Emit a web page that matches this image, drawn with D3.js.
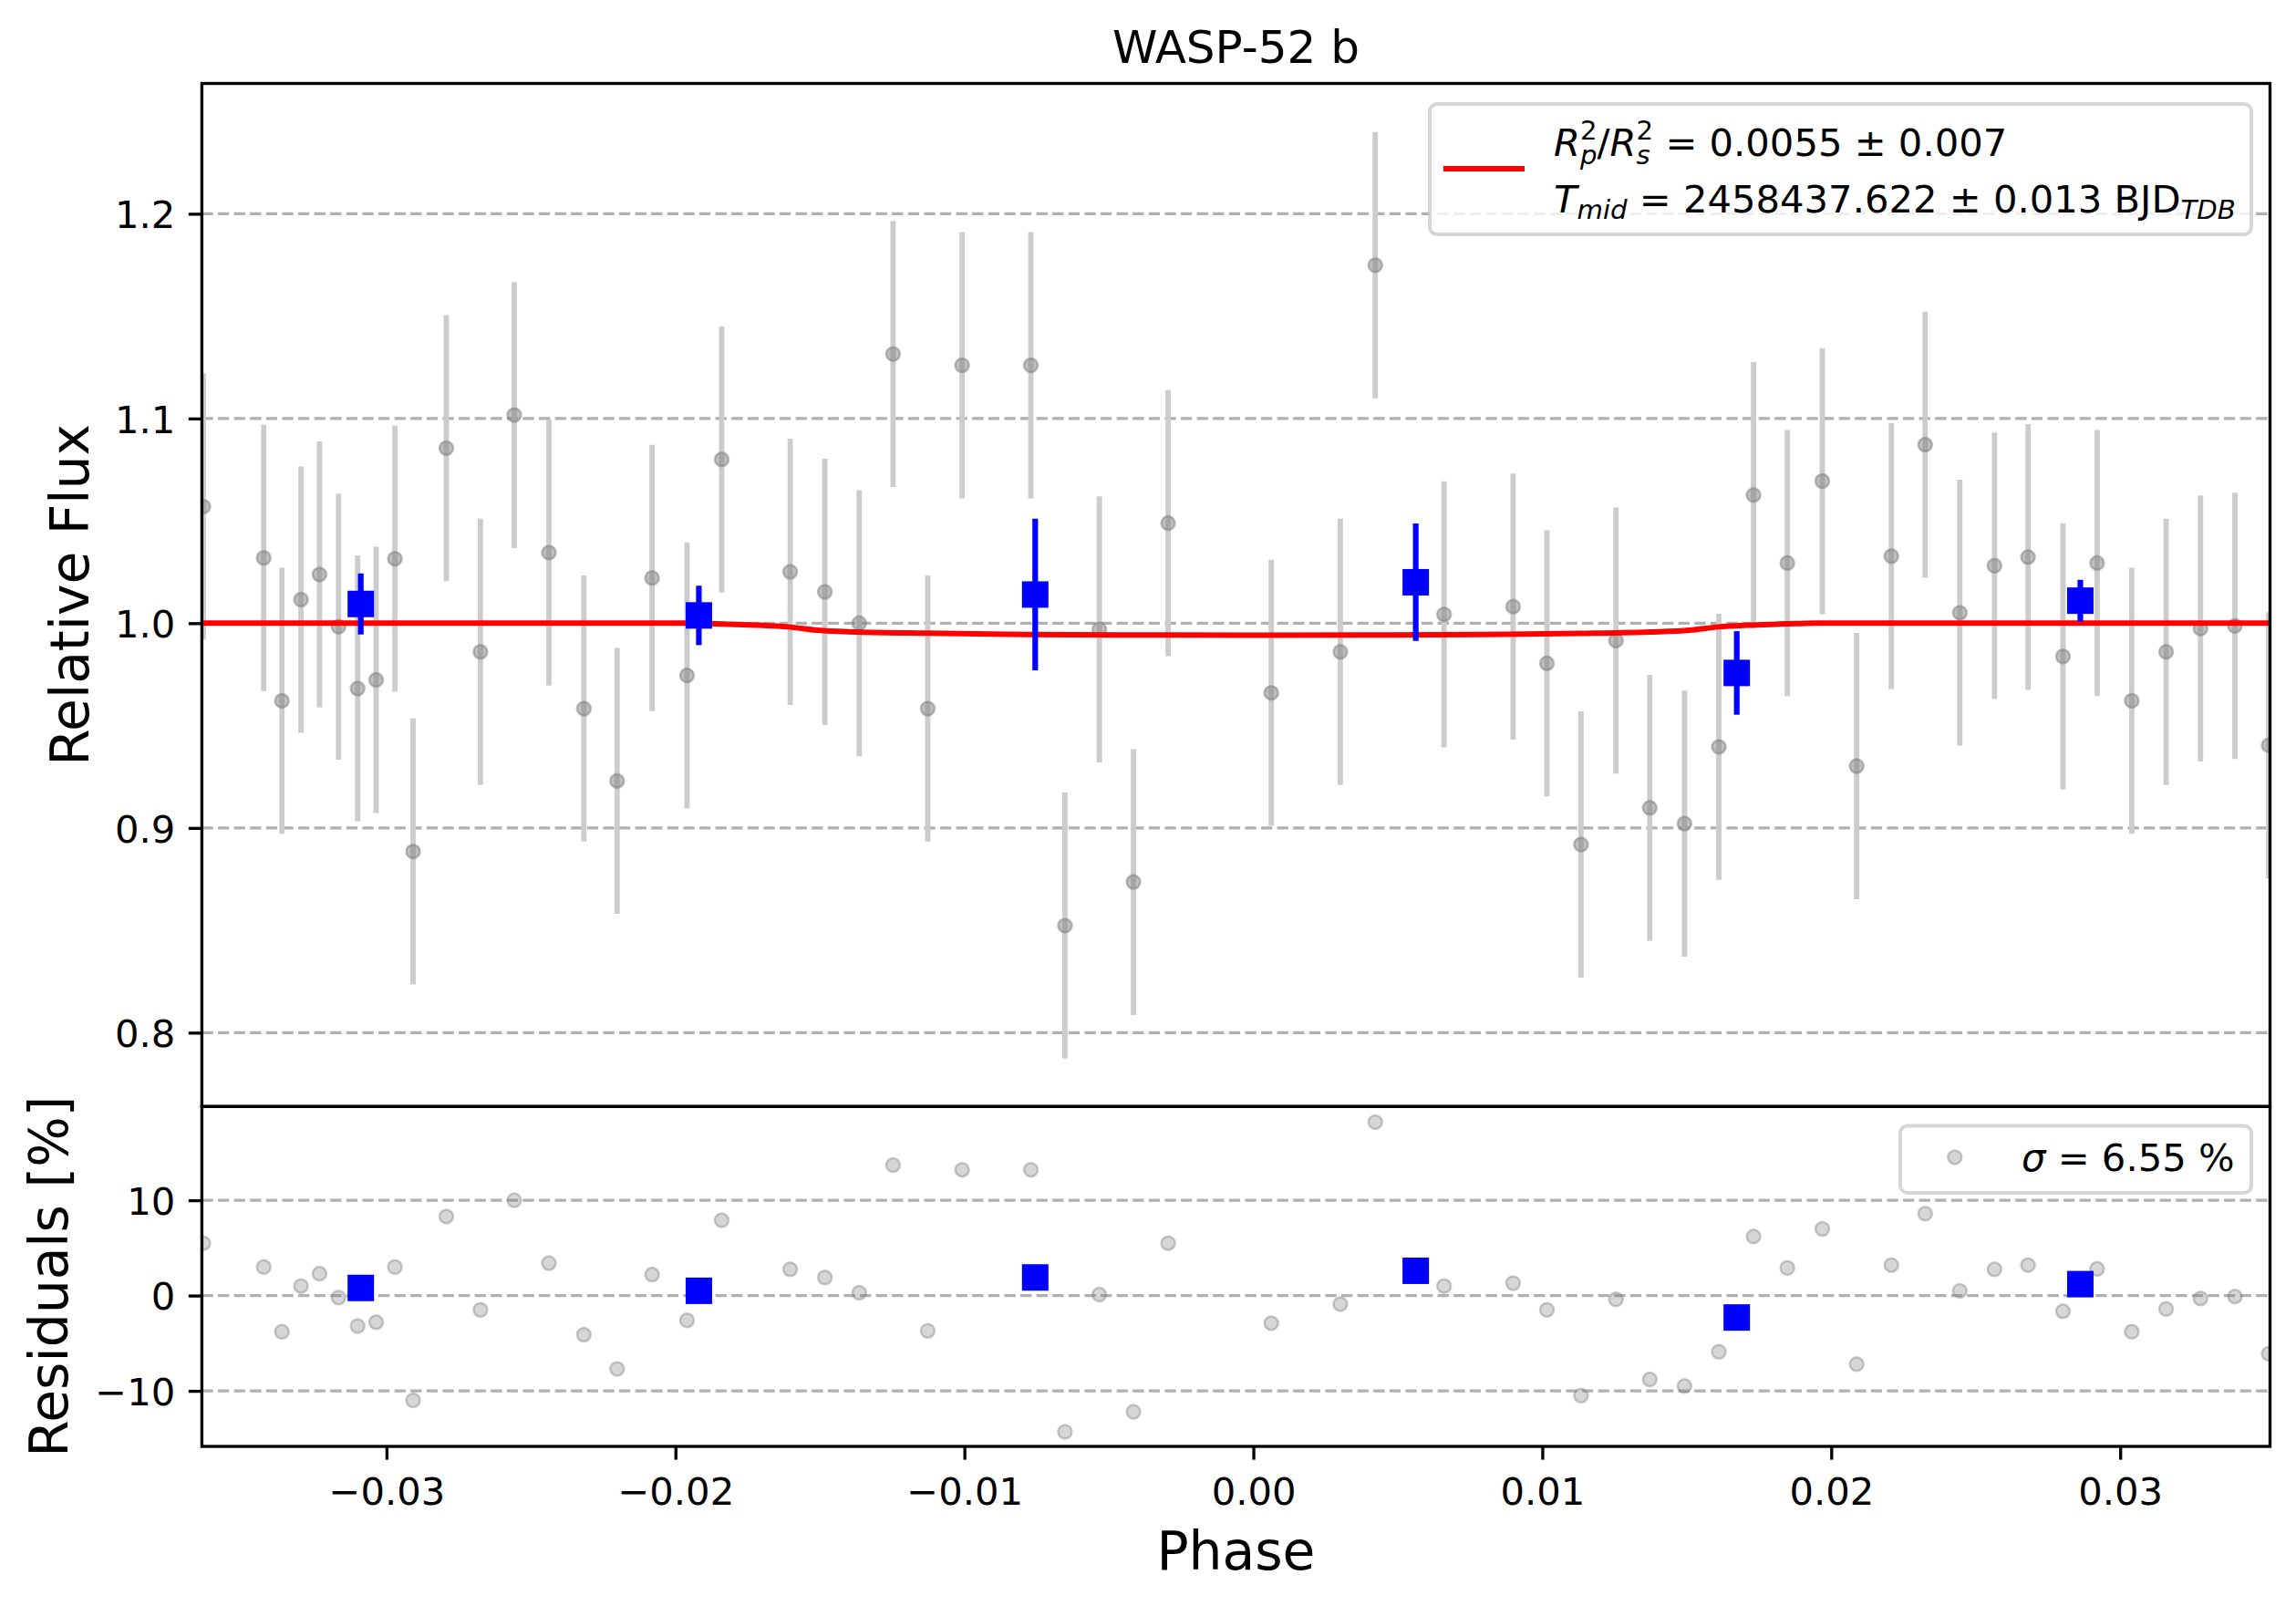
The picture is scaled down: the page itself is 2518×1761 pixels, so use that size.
<!DOCTYPE html>
<meta charset="utf-8">
<script src="https://d3js.org/d3.v7.min.js"></script>
<style>
  body { margin: 0; background: #fff; }
  text { font-family: "DejaVu Sans", sans-serif; fill: #000; }
</style>
<div id="chart"></div>
<script>
// ---- data ----
// unbinned exposures
var phase = [-0.03634, -0.03425, -0.03362, -0.03296, -0.03232, -0.03166, -0.03100, -0.03036, -0.02971, -0.02908,
             -0.02793, -0.02675, -0.02558, -0.02438, -0.02317, -0.02202, -0.02081, -0.01960, -0.01840, -0.01603,
             -0.01483, -0.01364, -0.01247, -0.01127, -0.01008, -0.00770, -0.00652, -0.00533, -0.00415, -0.00295,
              0.00062,  0.00301,  0.00422,  0.00660,  0.00899,  0.01016,  0.01134,  0.01255,  0.01372,  0.01492,
              0.01611,  0.01731,  0.01848,  0.01969,  0.02088,  0.02208,  0.02325,  0.02445,  0.02565,  0.02681,
              0.02802,  0.02920,  0.03040,  0.03159,  0.03278,  0.03397,  0.03514];
var flux = [1.0570, 1.0319, 0.9621, 1.0115, 1.0238, 0.9983, 0.9681, 0.9723, 1.0315, 0.8885,
            1.0855, 0.9860, 1.1017, 1.0345, 0.9583, 0.9230, 1.0221, 0.9745, 1.0800, 1.0251,
            1.0153, 1.0000, 1.1315, 0.9583, 1.1260, 1.1260, 0.8523, 0.9970, 0.8736, 1.0489,
            0.9660, 0.9860, 1.1749, 1.0043, 1.0081, 0.9804, 0.8919, 0.9915, 0.9098, 0.9021,
            0.9396, 1.0626, 1.0294, 1.0694, 0.9302, 1.0328, 1.0872, 1.0051, 1.0281, 1.0323,
            0.9838, 1.0294, 0.9621, 0.9860, 0.9974, 0.9987, 0.9404];
var fluxErr = [0.065, 0.065, 0.065, 0.065, 0.065, 0.065, 0.065, 0.065, 0.065, 0.065,
               0.065, 0.065, 0.065, 0.065, 0.065, 0.065, 0.065, 0.065, 0.065, 0.065,
               0.065, 0.065, 0.065, 0.065, 0.065, 0.065, 0.065, 0.065, 0.065, 0.065,
               0.065, 0.065, 0.065, 0.065, 0.065, 0.065, 0.065, 0.065, 0.065, 0.065,
               0.065, 0.065, 0.065, 0.065, 0.065, 0.065, 0.065, 0.065, 0.065, 0.065,
               0.065, 0.065, 0.065, 0.065, 0.065, 0.065, 0.065];
var resid = [5.5, 3.0, -3.8, 1.0, 2.3, -0.2, -3.2, -2.8, 3.0, -11.0,
             8.3, -1.5, 10.0, 3.4, -4.1, -7.7, 2.2, -2.6, 7.9, 2.75,
             1.9, 0.3, 13.7, -3.7, 13.2, 13.2, -14.3, 0.1, -12.2, 5.5,
             -2.9, -0.9, 18.2, 1.0, 1.3, -1.5, -10.5, -0.4, -8.8, -9.5,
             -5.9, 6.2, 2.9, 7.0, -7.2, 3.2, 8.6, 0.5, 2.75, 3.2,
             -1.65, 2.8, -3.8, -1.4, -0.3, -0.1, -6.1];

// binned points
var binPhase = [-0.03089, -0.01919, -0.00755, 0.00562, 0.01673, 0.02862];
var binFlux  = [1.0094, 1.0038, 1.0140, 1.0200, 0.9757, 1.0110];
var binErr   = [0.0149, 0.0145, 0.0370, 0.0287, 0.0204, 0.0102];
var binResid = [0.8, 0.5, 1.9, 2.6, -2.3, 1.2];

// transit model
var modelPhase = [-0.0364, -0.0195, -0.0188, -0.0181, -0.0171, -0.0161, -0.0151, -0.0137, -0.0113, -0.0079,
                  -0.0039, 0.0000, 0.0040, 0.0079, 0.0113, 0.0137, 0.0151, 0.0161, 0.0171, 0.0181,
                   0.0188, 0.0195, 0.0352];
var modelFlux  = [1.0000, 1.0000, 0.9998, 0.9995, 0.9990, 0.9982, 0.9966, 0.9957, 0.9951, 0.9945,
                  0.99425, 0.9941, 0.99425, 0.9945, 0.9950, 0.9957, 0.9966, 0.9982, 0.9990, 0.9995,
                  0.9998, 1.0000, 1.0000];

var phaseTicks = [-0.03, -0.02, -0.01, 0.00, 0.01, 0.02, 0.03];
var fluxTicks  = [0.8, 0.9, 1.0, 1.1, 1.2];
var residTicks = [-10, 0, 10];

// ---- layout (pixels) ----
var W = 2518, H = 1761;
var axLeft = 221.4, axRight = 2489.5, axTop = 91.5, axMid = 1213.3, axBottom = 1586;
var tickFont = 41.7, labelFont = 58.3, lw = 3.33;

var svg = d3.select("#chart").append("svg")
    .attr("width", W)
    .attr("height", H);

var x = d3.scaleLinear().domain([-0.03639, 0.035185]).range([axLeft, axRight]);
var y = d3.scaleLinear().domain([0.76392, 1.26365]).range([axMid, axTop]);
var yr = d3.scaleLinear().domain([-15.83, 19.84]).range([axBottom, axMid]);

var defs = svg.append("defs");
defs.append("clipPath").attr("id", "clipTop")
  .append("rect").attr("x", axLeft).attr("y", axTop).attr("width", axRight - axLeft).attr("height", axMid - axTop);
defs.append("clipPath").attr("id", "clipBot")
  .append("rect").attr("x", axLeft).attr("y", axMid).attr("width", axRight - axLeft).attr("height", axBottom - axMid);

// grids
function grid(ticks, scale) {
  svg.append("g").selectAll("line")
    .data(ticks).enter().append("line")
      .attr("x1", axLeft).attr("x2", axRight)
      .attr("y1", d => scale(d)).attr("y2", d => scale(d))
      .attr("stroke", "#b0b0b0")
      .attr("stroke-width", lw)
      .attr("stroke-dasharray", "12.3,5.3");
}
grid(fluxTicks, y);
grid(residTicks, yr);

var pts = d3.range(phase.length);
var bins = d3.range(binPhase.length);

// ---- top panel ----
var gTop = svg.append("g").attr("clip-path", "url(#clipTop)");

gTop.selectAll(".ebar").data(pts).enter().append("line")
    .attr("x1", i => x(phase[i])).attr("x2", i => x(phase[i]))
    .attr("y1", i => y(flux[i] - fluxErr[i])).attr("y2", i => y(flux[i] + fluxErr[i]))
    .attr("stroke", "#cccccc")
    .attr("stroke-width", 5.8);

gTop.selectAll(".pt").data(pts).enter().append("circle")
    .attr("cx", i => x(phase[i])).attr("cy", i => y(flux[i]))
    .attr("r", 7.5)
    .attr("fill", "#808080").attr("fill-opacity", 0.5)
    .attr("stroke", "#808080").attr("stroke-opacity", 0.5).attr("stroke-width", 2.5);

var line = d3.line()
    .x((d, i) => x(modelPhase[i]))
    .y((d, i) => y(modelFlux[i]))
    .curve(d3.curveMonotoneX);

gTop.append("path")
    .attr("d", line(modelPhase))
    .attr("fill", "none")
    .attr("stroke", "#ff0000")
    .attr("stroke-width", 6);

gTop.selectAll(".bbar").data(bins).enter().append("line")
    .attr("x1", i => x(binPhase[i])).attr("x2", i => x(binPhase[i]))
    .attr("y1", i => y(binFlux[i] - binErr[i])).attr("y2", i => y(binFlux[i] + binErr[i]))
    .attr("stroke", "#0000ff")
    .attr("stroke-width", 6.2);

gTop.selectAll(".bsq").data(bins).enter().append("rect")
    .attr("x", i => x(binPhase[i]) - 14.5).attr("y", i => y(binFlux[i]) - 14.5)
    .attr("width", 29).attr("height", 29)
    .attr("fill", "#0000ff");

// ---- residual panel ----
var gBot = svg.append("g").attr("clip-path", "url(#clipBot)");

gBot.selectAll(".rpt").data(pts).enter().append("circle")
    .attr("cx", i => x(phase[i])).attr("cy", i => yr(resid[i]))
    .attr("r", 7.5)
    .attr("fill", "#808080").attr("fill-opacity", 0.32)
    .attr("stroke", "#808080").attr("stroke-opacity", 0.4).attr("stroke-width", 2.5);

gBot.selectAll(".rsq").data(bins).enter().append("rect")
    .attr("x", i => x(binPhase[i]) - 14.5).attr("y", i => yr(binResid[i]) - 14.5)
    .attr("width", 29).attr("height", 29)
    .attr("fill", "#0000ff");

// ---- axes ----
function styleAxis(g) {
  g.select(".domain").remove();
  g.selectAll(".tick line").attr("stroke", "#000").attr("stroke-width", lw);
  g.selectAll(".tick text").style("font-size", tickFont + "px").attr("fill", "#000");
}

svg.append("g")
    .attr("transform", "translate(" + axLeft + ",0)")
    .call(d3.axisLeft(y).tickValues(fluxTicks).tickFormat(d3.format(".1f")).tickSize(14.6).tickPadding(14.6))
    .call(styleAxis)
    .call(g => g.selectAll(".tick text").attr("dy", "0.365em"));

svg.append("g")
    .attr("transform", "translate(" + axLeft + ",0)")
    .call(d3.axisLeft(yr).tickValues(residTicks).tickFormat(d3.format("d")).tickSize(14.6).tickPadding(14.6))
    .call(styleAxis)
    .call(g => g.selectAll(".tick text").attr("dy", "0.365em"));

svg.append("g")
    .attr("transform", "translate(0," + axBottom + ")")
    .call(d3.axisBottom(x).tickValues(phaseTicks).tickFormat(d3.format(".2f")).tickSize(14.6).tickPadding(14.6))
    .call(styleAxis)
    .call(g => g.selectAll(".tick text").attr("dy", "0.84em"));

// spines
[[axTop, axMid], [axMid, axBottom]].forEach(function(p) {
  svg.append("rect")
      .attr("x", axLeft).attr("y", p[0])
      .attr("width", axRight - axLeft).attr("height", p[1] - p[0])
      .attr("fill", "none").attr("stroke", "#000").attr("stroke-width", lw);
});

// ---- labels ----
svg.append("text")
    .attr("x", (axLeft + axRight) / 2).attr("y", 69)
    .attr("text-anchor", "middle")
    .style("font-size", "50px")
    .text("WASP-52 b");

svg.append("text")
    .attr("x", (axLeft + axRight) / 2).attr("y", 1720.7)
    .attr("text-anchor", "middle")
    .style("font-size", labelFont + "px")
    .text("Phase");

svg.append("text")
    .attr("transform", "translate(97.3," + (axTop + axMid) / 2 + ") rotate(-90)")
    .attr("text-anchor", "middle")
    .style("font-size", labelFont + "px")
    .text("Relative Flux");

svg.append("text")
    .attr("transform", "translate(74," + (axMid + axBottom) / 2 + ") rotate(-90)")
    .attr("text-anchor", "middle")
    .style("font-size", labelFont + "px")
    .text("Residuals [%]");

// ---- legends ----
// one text element per legend row, built from tspans; a "stack" part puts a
// superscript and a subscript at the same x, like matplotlib mathtext
function mathText(g, x0, y0, parts) {
  var t = g.append("text")
      .attr("xml:space", "preserve")
      .style("white-space", "pre");
  var cx = x0;
  function put(p, xx) {
    var sp = t.append("tspan")
        .attr("x", xx).attr("y", y0 + (p.dy || 0))
        .style("font-size", (p.size || tickFont) + "px")
        .style("font-style", p.it ? "italic" : "normal")
        .text(p.t);
    return sp.node().getComputedTextLength();
  }
  parts.forEach(function(p) {
    if (p.stack) {
      var w = 0;
      p.stack.forEach(function(s) { w = Math.max(w, put(s, cx)); });
      cx += w;
    } else {
      cx += put(p, cx);
    }
  });
  return t;
}

var sub = tickFont * 0.7;

var leg = svg.append("g");
leg.append("rect")
    .attr("x", 1568).attr("y", 114).attr("width", 2469 - 1568).attr("height", 257 - 114)
    .attr("rx", 8).attr("ry", 8)
    .attr("fill", "#fff").attr("fill-opacity", 0.8)
    .attr("stroke", "#cccccc").attr("stroke-opacity", 0.8).attr("stroke-width", 4);
leg.append("line")
    .attr("x1", 1583).attr("x2", 1672).attr("y1", 185).attr("y2", 185)
    .attr("stroke", "#ff0000").attr("stroke-width", 6);

mathText(leg, 1704, 171, [
  {t: "R", it: true},
  {stack: [{t: "2", size: sub, dy: -18}, {t: "p", size: sub, dy: 9, it: true}]},
  {t: "/"},
  {t: "R", it: true},
  {stack: [{t: "2", size: sub, dy: -18}, {t: "s", size: sub, dy: 9, it: true}]},
  {t: " = 0.0055 \u00b1 0.007"}
]);
mathText(leg, 1704, 232.5, [
  {t: "T", it: true},
  {t: "mid", size: sub, dy: 7, it: true},
  {t: " = 2458437.622 \u00b1 0.013 BJD"},
  {t: "TDB", size: sub, dy: 7, it: true}
]);

var leg2 = svg.append("g");
leg2.append("rect")
    .attr("x", 2084).attr("y", 1234.5).attr("width", 2469 - 2084).attr("height", 1308 - 1234.5)
    .attr("rx", 8).attr("ry", 8)
    .attr("fill", "#fff").attr("fill-opacity", 0.8)
    .attr("stroke", "#cccccc").attr("stroke-opacity", 0.8).attr("stroke-width", 4);
leg2.append("circle")
    .attr("cx", 2143.8).attr("cy", 1268.9).attr("r", 7.5)
    .attr("fill", "#808080").attr("fill-opacity", 0.32)
    .attr("stroke", "#808080").attr("stroke-opacity", 0.4).attr("stroke-width", 2.5);
mathText(leg2, 2217, 1284.3, [
  {t: "\u03c3", it: true},
  {t: " = 6.55 %"}
]);
</script>
